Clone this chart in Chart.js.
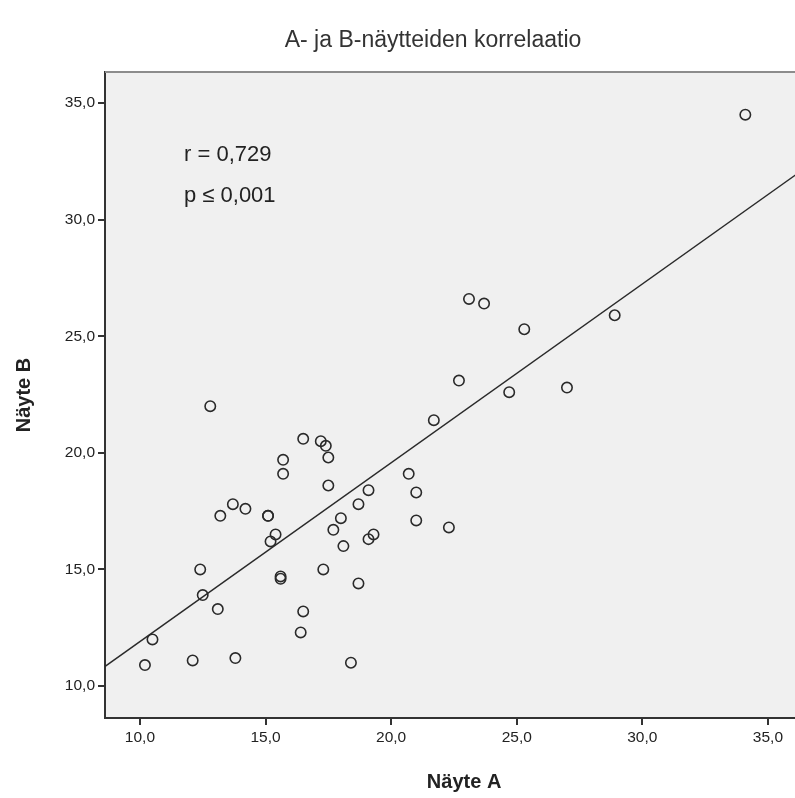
<!DOCTYPE html>
<html>
<head>
<meta charset="utf-8">
<script src="https://cdn.jsdelivr.net/npm/chart.js@4.4.1/dist/chart.umd.min.js"></script>
<style>
  html, body { margin: 0; padding: 0; background: #fff; overflow: hidden; }
  canvas { display: block; }
</style>
</head>
<body>
<canvas id="chart" width="830" height="798"></canvas>
<script>
// Näyte A (x) and Näyte B (y)
const nayteA = [10.2, 10.5, 12.1, 12.4, 12.5, 12.8, 13.1, 13.2, 13.7, 13.8,
                14.2, 15.1, 15.1, 15.2, 15.4, 15.6, 15.6, 15.7, 15.7, 16.4,
                16.5, 16.5, 17.2, 17.3, 17.4, 17.5, 17.5, 17.7, 18.0, 18.1,
                18.4, 18.7, 18.7, 19.1, 19.1, 19.3, 20.7, 21.0, 21.0, 21.7,
                22.3, 22.7, 23.1, 23.7, 24.7, 25.3, 27.0, 28.9, 34.1];
const nayteB = [10.9, 12.0, 11.1, 15.0, 13.9, 22.0, 13.3, 17.3, 17.8, 11.2,
                17.6, 17.3, 17.3, 16.2, 16.5, 14.6, 14.7, 19.7, 19.1, 12.3,
                13.2, 20.6, 20.5, 15.0, 20.3, 19.8, 18.6, 16.7, 17.2, 16.0,
                11.0, 17.8, 14.4, 18.4, 16.3, 16.5, 19.1, 18.3, 17.1, 21.4,
                16.8, 23.1, 26.6, 26.4, 22.6, 25.3, 22.8, 25.9, 34.5];

// fit line end points (edges of the plot)
const fitX = [8.6, 37.2];
const fitY = [10.83, 32.76];

const titleText = 'A- ja B-näytteiden korrelaatio';
const statLines = ['r = 0,729', 'p \u2264 0,001'];

const points = nayteA.map((a, i) => ({ x: a, y: nayteB[i] }));
const fitPoints = fitX.map((a, i) => ({ x: a, y: fitY[i] }));

const fmt = v => v.toFixed(1).replace('.', ',');

const framePlugin = {
    id: 'frame',
    beforeDraw(chart) {
        const { ctx, chartArea: a } = chart;
        ctx.save();
        ctx.fillStyle = '#f0f0f0';
        ctx.fillRect(a.left, a.top, a.right - a.left, a.bottom - a.top);
        ctx.restore();
    },
    afterDraw(chart) {
        const { ctx, chartArea: a } = chart;
        ctx.save();
        // top edge is lighter
        ctx.strokeStyle = '#8c8c8c';
        ctx.lineWidth = 2;
        ctx.beginPath();
        ctx.moveTo(a.left, a.top);
        ctx.lineTo(a.right, a.top);
        ctx.stroke();

        ctx.fillStyle = '#333';
        ctx.textAlign = 'center';
        ctx.textBaseline = 'alphabetic';
        ctx.font = '23px "Liberation Sans", Arial, sans-serif';
        ctx.fillText(titleText, 433, 47);

        ctx.textAlign = 'left';
        ctx.textBaseline = 'middle';
        ctx.fillStyle = '#222';
        ctx.font = '22px "Liberation Sans", Arial, sans-serif';
        ctx.fillText(statLines[0], 184, 155);
        ctx.fillText(statLines[1], 184, 196);
        ctx.restore();
    }
};

const axisCommon = {
    type: 'linear',
    border: { display: true, color: '#333', width: 2 },
    grid: {
        display: true,
        drawOnChartArea: false,
        drawTicks: true,
        tickLength: 7,
        color: '#333',
        lineWidth: 2
    }
};

const tickFont = { family: '"Liberation Sans", Arial, sans-serif', size: 15.5 };
const axisTitleFont = { family: '"Liberation Sans", Arial, sans-serif', size: 20, weight: 'bold' };

new Chart(document.getElementById('chart').getContext('2d'), {
    type: 'scatter',
    data: {
        datasets: [
            {
                label: 'Havainnot',
                data: points,
                pointStyle: 'circle',
                pointRadius: 5.2,
                pointHoverRadius: 5.2,
                borderWidth: 1.6,
                borderColor: '#2a2a2a',
                backgroundColor: 'rgba(0,0,0,0)',
                order: 1
            },
            {
                type: 'line',
                label: 'Sovite',
                data: fitPoints,
                borderColor: '#2a2a2a',
                borderWidth: 1.5,
                pointRadius: 0,
                fill: false,
                order: 2
            }
        ]
    },
    options: {
        responsive: false,
        animation: false,
        devicePixelRatio: 1,
        layout: { padding: { top: 72, right: 5, left: 0, bottom: 0 } },
        plugins: {
            legend: { display: false },
            tooltip: { enabled: false },
            title: { display: false }
        },
        scales: {
            x: {
                ...axisCommon,
                position: 'bottom',
                min: 8.61,
                max: 37.2,
                afterFit: s => { s.height = 80; },
                ticks: {
                    stepSize: 5,
                    includeBounds: false,
                    padding: 3,
                    color: '#222',
                    font: tickFont,
                    callback: fmt
                },
                title: {
                    display: true,
                    text: 'Näyte A',
                    color: '#222',
                    padding: { top: 8, bottom: 4 },
                    font: axisTitleFont
                }
            },
            y: {
                ...axisCommon,
                position: 'left',
                min: 8.63,
                max: 36.33,
                afterFit: s => { s.width = 105; },
                ticks: {
                    stepSize: 5,
                    includeBounds: false,
                    padding: 3,
                    color: '#222',
                    font: tickFont,
                    callback: fmt
                },
                title: {
                    display: true,
                    text: 'Näyte B',
                    color: '#222',
                    padding: { top: 12, bottom: 4 },
                    font: axisTitleFont
                }
            }
        }
    },
    plugins: [framePlugin]
});
</script>
</body>
</html>
